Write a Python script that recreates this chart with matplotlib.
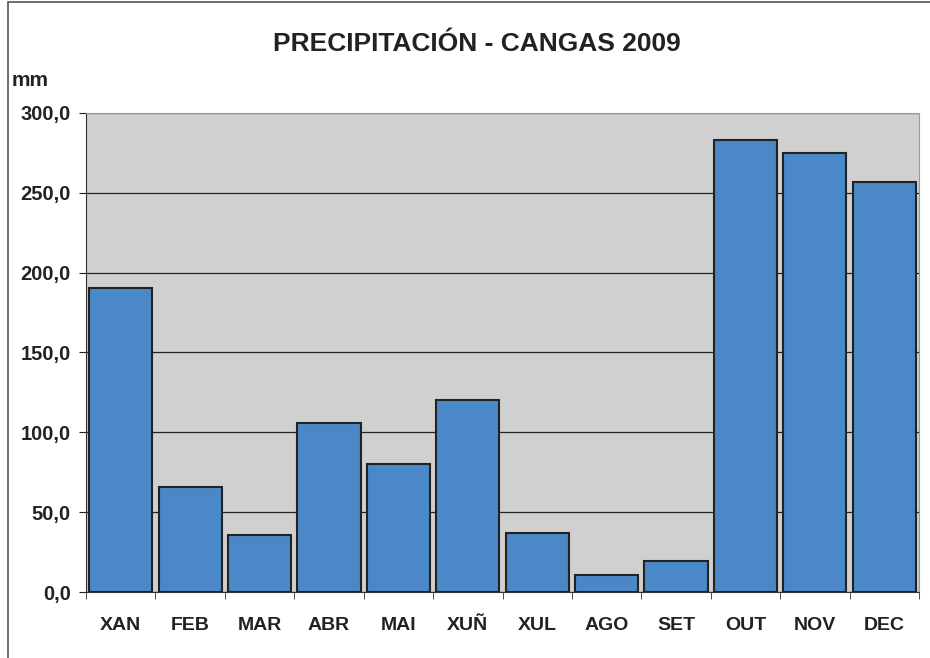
import matplotlib.pyplot as plt
from matplotlib.ticker import FixedLocator, FuncFormatter
from matplotlib.patches import Rectangle

plt.rcParams['font.family'] = ['Liberation Sans', 'DejaVu Sans']
plt.rcParams['font.weight'] = 'bold'

months = ['XAN', 'FEB', 'MAR', 'ABR', 'MAI', 'XUÑ', 'XUL', 'AGO', 'SET', 'OUT', 'NOV', 'DEC']
precip = [190.4, 65.9, 35.8, 105.9, 80.3, 120.3, 37.0, 10.4, 19.6, 283.2, 275.1, 256.9]

fig = plt.figure(figsize=(9.3, 6.58), dpi=100)
ax = fig.add_axes([0.0925, 0.1003, 0.8957, 0.728])
ax.set_facecolor('#d0d0d0')

x = list(range(len(months)))
ax.bar(x, precip, width=0.91, color='#4a88c7', edgecolor='#222222', linewidth=1.5, zorder=3)

ax.set_xlim(-0.5, len(months) - 0.5)
ax.set_ylim(0, 300)
ax.set_yticks([0, 50, 100, 150, 200, 250, 300])
ax.yaxis.set_major_formatter(FuncFormatter(lambda v, p: f'{v:.1f}'.replace('.', ',')))
ax.yaxis.grid(True, color='#222222', linewidth=0.9, zorder=1)

ax.set_xticks(x)
ax.set_xticklabels(months)
ax.xaxis.set_minor_locator(FixedLocator([i - 0.5 for i in range(len(months) + 1)]))
ax.tick_params(axis='x', which='major', length=0, pad=18, labelsize=14, colors='#222222')
ax.tick_params(axis='x', which='minor', length=5, direction='out', color='#333333')
ax.tick_params(axis='y', length=5, labelsize=14.5, colors='#222222', pad=6)

for s in ['top', 'right']:
    ax.spines[s].set_color('#999999')
for s in ['left', 'bottom']:
    ax.spines[s].set_color('#333333')

fig.text(0.513, 0.933, 'PRECIPITACIÓN - CANGAS 2009', ha='center', va='center',
         fontsize=19, fontweight='bold', color='#222222')
fig.text(0.013, 0.878, 'mm', ha='left', va='center', fontsize=15, fontweight='bold', color='#222222')

fig.patches.append(Rectangle((0.009, -0.01), 1.1, 1.007, transform=fig.transFigure,
                             fill=False, edgecolor='#555555', linewidth=1.2))

fig.savefig('out.png', dpi=100)
